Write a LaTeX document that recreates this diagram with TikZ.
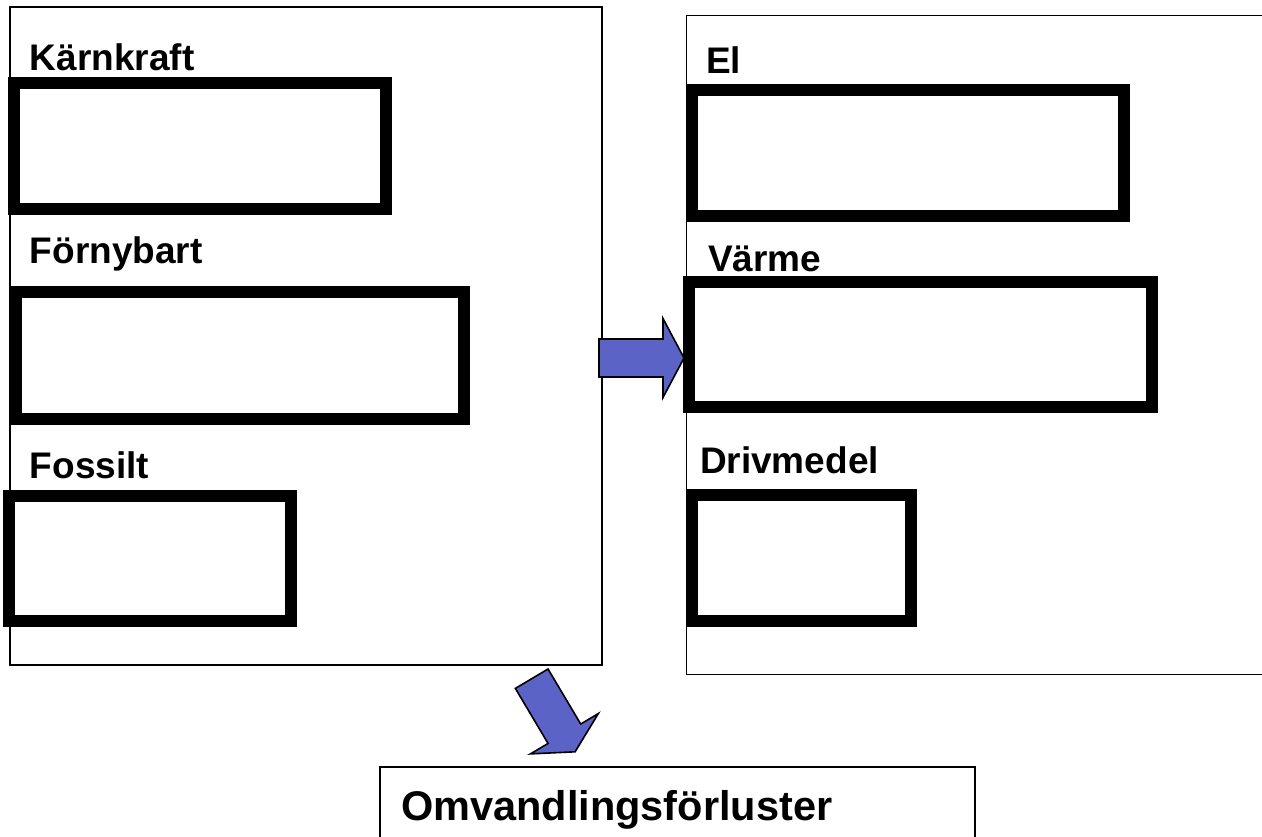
\documentclass[tikz,border=0pt]{standalone}
\usepackage{fontspec}
\setmainfont{Liberation Sans}
\begin{document}
\begin{tikzpicture}[x=1pt,y=-1pt,
  frame/.style={draw=black,line width=1.6pt,fill=none,inner sep=0pt,outer sep=0pt},
  slot/.style={draw=black,line width=12pt,fill=none,inner sep=0pt,outer sep=0pt},
  label/.style={inner sep=0pt,outer sep=0pt,anchor=base west,font=\bfseries\fontsize{37}{44}\selectfont},
  biglabel/.style={inner sep=0pt,outer sep=0pt,anchor=base west,font=\bfseries\fontsize{41.5}{50}\selectfont},
  blockarrow/.style={draw=black,line width=1.6pt,fill=arrowblue,line join=miter}]
\definecolor{arrowblue}{RGB}{92,99,198}
\useasboundingbox (0,0) rectangle (1262,836);
\clip (0,0) rectangle (1262,836);
\fill[white] (0,0) rectangle (1262,836);

% source frame and its three slots
\node[frame,minimum width=592pt,minimum height=658pt] (src) at (306,336) {};
\node[label] (lkarn) at (30,70) {Kärnkraft};
\node[slot,minimum width=372pt,minimum height=126pt] (karn) at (200,146) {};
\node[label] (lforn) at (30,263) {Förnybart};
\node[slot,minimum width=448pt,minimum height=127pt] (forn) at (240,355.5) {};
\node[label] (lfoss) at (30,478) {Fossilt};
\node[slot,minimum width=282pt,minimum height=125pt] (foss) at (150,558.5) {};

% target frame (runs past the right edge) and its three slots
\node[frame,minimum width=620pt,minimum height=659pt] (dst) at (996.5,345) {};
\node[label] (lel) at (706,73) {El};
\node[slot,minimum width=432pt,minimum height=126pt] (el) at (908,153) {};
\node[label] (lvarm) at (708,271) {Värme};
\node[slot,minimum width=463pt,minimum height=125pt] (varm) at (920.5,344.5) {};
\node[label] (ldriv) at (700,473) {Drivmedel};
\node[slot,minimum width=219pt,minimum height=126pt] (driv) at (801.5,558) {};

% loss box (runs past the bottom edge)
\node[frame,minimum width=595pt,minimum height=120pt] (loss) at (677.5,827) {};
\node[biglabel] (lloss) at (401,820) {Omvandlingsförluster};

% block arrows
\coordinate (a1) at (src.east |- varm.west);
\begin{scope}[shift={(599,358)}]
  \draw[blockarrow] (0,-19) -- (64,-19) -- (64,-39.5) -- (85,0) -- (64,39.5) -- (64,19) -- (0,19) -- cycle;
\end{scope}
\begin{scope}[shift={(531.7,678.7)},rotate=-59.3]
  \draw[blockarrow] (0,-19) -- (64,-19) -- (64,-39.5) -- (85,0) -- (64,39.5) -- (64,19) -- (0,19) -- cycle;
\end{scope}
\end{tikzpicture}
\end{document}
